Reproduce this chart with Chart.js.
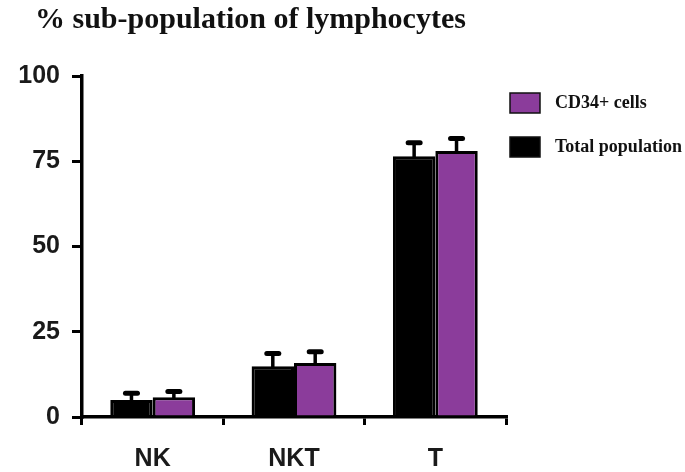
<!DOCTYPE html>
<html>
<head>
<meta charset="utf-8">
<title>% sub-population of lymphocytes</title>
<script src="https://cdn.jsdelivr.net/npm/chart.js@4/dist/chart.umd.min.js"></script>
<style>
  html, body { margin: 0; padding: 0; background: #ffffff; }
  canvas { display: block; }
</style>
</head>
<body>
<canvas id="chart" width="685" height="472"></canvas>
<script>
// Lymphocyte sub-populations (% of lymphocytes), mean with upper SD
const categories = ['NK', 'NKT', 'T'];
const totalPopulation = [5.0, 14.9, 76.5];
const totalPopulationErr = [2.0, 3.7, 3.9];
const cd34Cells = [5.8, 15.8, 78.0];
const cd34CellsErr = [1.7, 3.3, 3.7];
const yTicks = [0, 25, 50, 75, 100];

const titleText = '% sub-population of lymphocytes';
const legendItems = [
  { label: 'CD34+ cells', color: '#8b3c9b' },
  { label: 'Total population', color: '#000000' }
];

// Upper error bars with a flat cap on top of each bar
const errorBars = {
  id: 'errorBars',
  afterDatasetsDraw(chart) {
    const ctx = chart.ctx;
    const yScale = chart.scales.y;
    ctx.save();
    ctx.strokeStyle = '#000';
    ctx.lineCap = 'round';
    chart.data.datasets.forEach((ds, di) => {
      const meta = chart.getDatasetMeta(di);
      meta.data.forEach((bar, i) => {
        const top = yScale.getPixelForValue(ds.data[i] + ds.errors[i]);
        ctx.lineWidth = 3.5;
        ctx.beginPath();
        ctx.moveTo(bar.x, bar.y);
        ctx.lineTo(bar.x, top);
        ctx.stroke();
        ctx.lineWidth = 5;
        ctx.beginPath();
        ctx.moveTo(bar.x - 6, top);
        ctx.lineTo(bar.x + 6, top);
        ctx.stroke();
      });
    });
    ctx.restore();
  }
};

// Heading and legend boxes
const annotations = {
  id: 'annotations',
  afterDraw(chart) {
    const ctx = chart.ctx;
    ctx.save();
    ctx.fillStyle = '#111';
    ctx.font = 'bold 30px "Liberation Serif", "Times New Roman", serif';
    ctx.textBaseline = 'alphabetic';
    ctx.textAlign = 'left';
    ctx.fillText(titleText, 35, 28);

    ctx.font = 'bold 18px "Liberation Serif", "Times New Roman", serif';
    legendItems.forEach((item, i) => {
      const y = 93 + i * 44;
      ctx.fillStyle = item.color;
      ctx.fillRect(510, y, 30, 20);
      ctx.strokeStyle = '#111';
      ctx.lineWidth = 1.5;
      ctx.strokeRect(510, y, 30, 20);
      ctx.fillStyle = '#111';
      ctx.fillText(item.label, 555, y + 15);
    });
    ctx.restore();
  }
};

new Chart(document.getElementById('chart'), {
  type: 'bar',
  data: {
    labels: categories,
    datasets: [
      {
        label: 'Total population',
        data: totalPopulation,
        errors: totalPopulationErr,
        backgroundColor: '#000000',
        borderColor: '#000000',
        borderWidth: 3
      },
      {
        label: 'CD34+ cells',
        data: cd34Cells,
        errors: cd34CellsErr,
        backgroundColor: '#8b3c9b',
        borderColor: '#000000',
        borderWidth: 3
      }
    ]
  },
  options: {
    responsive: false,
    animation: false,
    layout: { padding: { left: 0, top: 76, right: 179, bottom: 0 } },
    datasets: { bar: { categoryPercentage: 0.6, barPercentage: 1.0 } },
    plugins: {
      legend: { display: false },
      title: { display: false },
      tooltip: { enabled: false }
    },
    scales: {
      x: {
        grid: {
          display: true,
          drawOnChartArea: false,
          offset: true,
          color: '#000',
          lineWidth: 3,
          tickLength: 8
        },
        border: { display: true, color: '#000', width: 3.5 },
        ticks: {
          color: '#1a1a1a',
          padding: 19,
          font: { family: '"Liberation Sans", Arial, sans-serif', weight: 'bold', size: 25 }
        },
        afterFit(scale) { scale.height = 55; }
      },
      y: {
        min: 0,
        max: 100,
        afterBuildTicks(scale) { scale.ticks = yTicks.map(v => ({ value: v })); },
        grid: {
          display: true,
          drawOnChartArea: false,
          color: '#000',
          lineWidth: 3,
          tickLength: 10
        },
        border: { display: true, color: '#000', width: 3.5 },
        ticks: {
          color: '#1a1a1a',
          padding: 12,
          font: { family: '"Liberation Sans", Arial, sans-serif', weight: 'bold', size: 25 }
        },
        afterFit(scale) { scale.width = 82; }
      }
    }
  },
  plugins: [errorBars, annotations]
});
</script>
</body>
</html>
